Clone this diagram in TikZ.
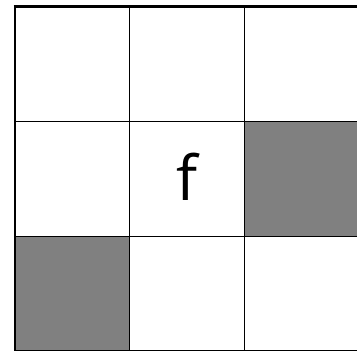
\documentclass[tikz,border=0pt]{standalone}
\usepackage{fontspec}
\setmainfont{Open Sans}
\begin{document}
\begin{tikzpicture}[x=1pt,y=-1pt,
  gridline/.style={draw=black,line width=1.2pt},
  shaded/.style={fill=black!50},
  toprule/.style={draw=black,line width=3pt},
  label/.style={font=\fontsize{62}{62}\selectfont,inner sep=0pt}]
\useasboundingbox (0,0) rectangle (357,351);
% shaded cells
\fill[shaded] (244.5,121.5) rectangle (359.5,236.5);
\fill[shaded] (15,236.5) rectangle (129.5,351);
% grid
\draw[gridline] (15,6.5) -- (15,350.5);
\draw[gridline] (129.5,6.5) -- (129.5,350.5);
\draw[gridline] (244.5,6.5) -- (244.5,350.5);
\draw[gridline] (15,121.5) -- (360,121.5);
\draw[gridline] (15,236.5) -- (360,236.5);
\draw[gridline] (15,350.5) -- (360,350.5);
\draw[toprule] (13.5,6.5) -- (360,6.5);
\node[label] (f) at (187,177) {f};
\end{tikzpicture}
\end{document}
